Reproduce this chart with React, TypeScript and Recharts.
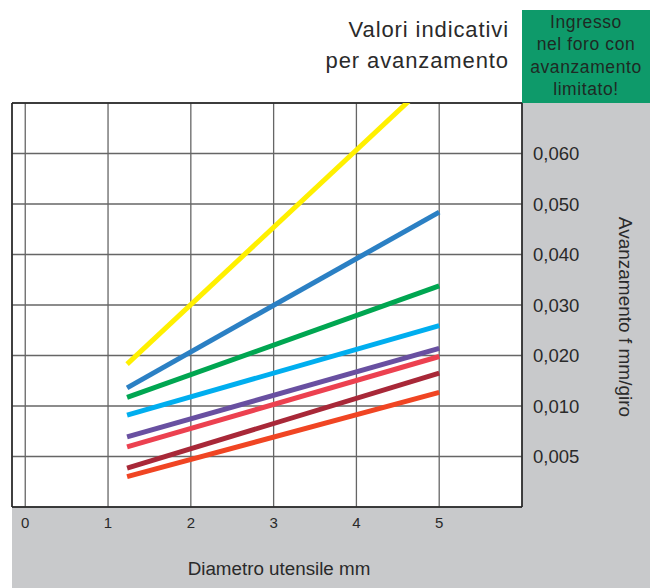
import React from 'react';
import { LineChart, Line, XAxis, YAxis, CartesianGrid, ReferenceLine, Label } from 'recharts';

// Tool diameter (mm) at start and end of each line
const diameters = [1.23, 5];
// Values in chart grid units (each horizontal grid band = one unit, labels below)
const yellowSeries = [2.83, 8.6];
const blueSeries = [2.36, 5.84];
const greenSeries = [2.17, 4.38];
const cyanSeries = [1.82, 3.59];
const purpleSeries = [1.39, 3.14];
const pinkSeries = [1.19, 2.98];
const darkRedSeries = [0.77, 2.65];
const orangeSeries = [0.6, 2.27];

const xTicks = [0, 1, 2, 3, 4, 5];
const yTicks = [1, 2, 3, 4, 5, 6, 7];
const yTickLabels = ['0,005', '0,010', '0,020', '0,030', '0,040', '0,050', '0,060'];

const series = [
  { key: 'yellow', values: yellowSeries, color: '#fff000' },
  { key: 'blue', values: blueSeries, color: '#2b80c4' },
  { key: 'green', values: greenSeries, color: '#00a651' },
  { key: 'cyan', values: cyanSeries, color: '#00aeef' },
  { key: 'purple', values: purpleSeries, color: '#6950a1' },
  { key: 'pink', values: pinkSeries, color: '#ec4150' },
  { key: 'darkred', values: darkRedSeries, color: '#a82838' },
  { key: 'orange', values: orangeSeries, color: '#f04523' },
];

const data = diameters.map((d, i) => {
  const row: Record<string, number> = { d };
  series.forEach((s) => {
    row[s.key] = s.values[i];
  });
  return row;
});

const FONT = '"Liberation Sans", Arial, Helvetica, sans-serif';
const TEXT = '#2a2a2a';

export default function App() {
  return (
    <div style={{ position: 'absolute', left: 0, top: 0, width: 657, height: 588, fontFamily: FONT, background: '#fff' }}>
      <div style={{ position: 'absolute', left: 12, top: 103, width: 638, height: 485, background: '#c8c9cb' }} />
      <div
        style={{
          position: 'absolute',
          left: 522,
          top: 10,
          width: 128,
          height: 93,
          background: '#0e9a6a',
          color: '#1e2a24',
          fontSize: 17.5,
          letterSpacing: '0.6px',
          lineHeight: '22.3px',
          textAlign: 'center',
          paddingTop: 1,
          boxSizing: 'border-box',
        }}
      >
        Ingresso
        <br />
        nel foro con
        <br />
        avanzamento
        <br />
        limitato!
      </div>
      <div
        style={{
          position: 'absolute',
          right: 148,
          top: 14,
          fontSize: 22,
          letterSpacing: '0.9px',
          lineHeight: '31px',
          textAlign: 'right',
          color: TEXT,
          whiteSpace: 'nowrap',
        }}
      >
        Valori indicativi
        <br />
        per avanzamento
      </div>
      <div style={{ position: 'absolute', left: 0, top: 0 }}>
        <LineChart width={657} height={588} data={data} margin={{ top: 103, right: 7, bottom: 0, left: 12 }}>
          <CartesianGrid stroke="#666" strokeWidth={1.3} fill="#ffffff" fillOpacity={1} />
          <XAxis
            dataKey="d"
            type="number"
            domain={[-0.16, 6]}
            ticks={xTicks}
            allowDataOverflow
            height={81}
            tickLine={false}
            tickSize={0}
            tickMargin={10}
            axisLine={{ stroke: '#222', strokeWidth: 1.5 }}
            tick={{ fill: TEXT, fontSize: 15, fontFamily: FONT }}
          >
            <Label
              value="Diametro utensile mm"
              position="insideBottom"
              offset={13}
              dx={12}
              fill={TEXT}
              fontSize={18.8}
              fontFamily={FONT}
            />
          </XAxis>
          <YAxis
            orientation="right"
            type="number"
            domain={[0, 8]}
            ticks={yTicks}
            allowDataOverflow
            width={128}
            tickLine={false}
            tickSize={0}
            tickMargin={11}
            axisLine={{ stroke: '#222', strokeWidth: 1.5 }}
            tickFormatter={(v: number) => yTickLabels[v - 1] ?? ''}
            tick={{ fill: TEXT, fontSize: 18.5, fontFamily: FONT }}
          >
            <Label
              value="Avanzamento f mm/giro"
              position="center"
              angle={90}
              dx={40}
              dy={12}
              fill={TEXT}
              fontSize={19}
              fontFamily={FONT}
            />
          </YAxis>
          <ReferenceLine y={8} stroke="#222" strokeWidth={1.5} />
          <ReferenceLine x={-0.16} stroke="#222" strokeWidth={1.5} />
          {series.map((s) => (
            <Line
              key={s.key}
              dataKey={s.key}
              stroke={s.color}
              strokeWidth={5}
              dot={false}
              activeDot={false}
              isAnimationActive={false}
              strokeLinecap="butt"
            />
          ))}
        </LineChart>
      </div>
    </div>
  );
}
